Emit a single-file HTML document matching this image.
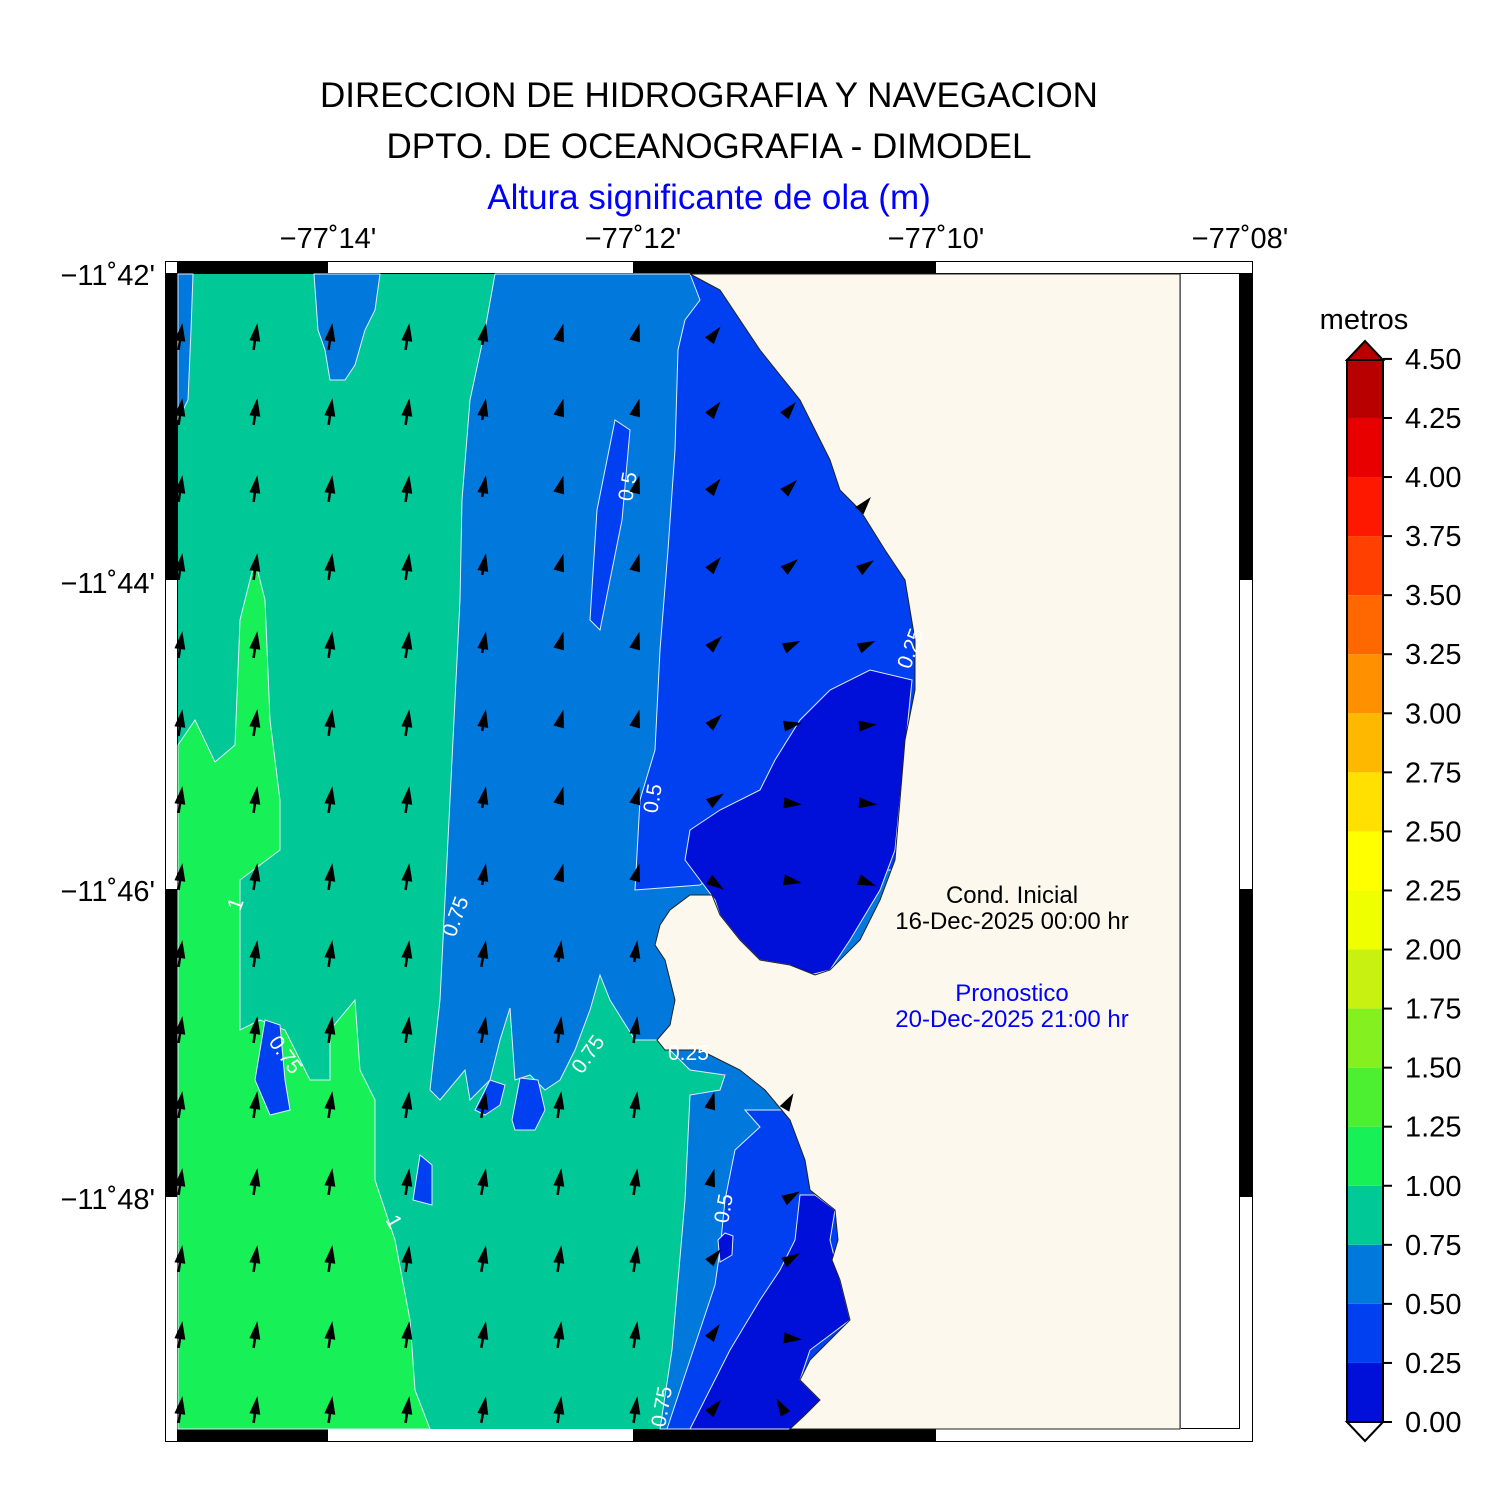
<!DOCTYPE html>
<html><head><meta charset="utf-8"><style>
html,body{margin:0;padding:0;background:#fff}
svg{display:block}
text{font-family:"Liberation Sans",sans-serif}
</style></head><body>
<svg id="s" width="1487" height="1500" viewBox="0 0 1487 1500" xmlns="http://www.w3.org/2000/svg">
<text x="709" y="107" font-size="35" text-anchor="middle">DIRECCION DE HIDROGRAFIA Y NAVEGACION</text>
<text x="709" y="158" font-size="35" text-anchor="middle">DPTO. DE OCEANOGRAFIA - DIMODEL</text>
<text x="709" y="209" font-size="35" text-anchor="middle" fill="#0000ff">Altura significante de ola (m)</text>
<g font-size="29" text-anchor="middle">
<text x="328" y="248">−77˚14'</text><text x="633" y="248">−77˚12'</text>
<text x="936" y="248">−77˚10'</text><text x="1240" y="248">−77˚08'</text>
</g>
<g font-size="29" text-anchor="end">
<text x="155" y="285">−11˚42'</text><text x="155" y="593">−11˚44'</text>
<text x="155" y="901">−11˚46'</text><text x="155" y="1209">−11˚48'</text>
</g>
<rect x="165.5" y="261.5" width="1087" height="1180" fill="#fff" stroke="#000" stroke-width="1"/>
<rect x="177" y="261" width="151" height="12" fill="#000"/>
<rect x="633" y="261" width="303" height="12" fill="#000"/>
<rect x="177" y="1429" width="151" height="12" fill="#000"/>
<rect x="633" y="1429" width="303" height="12" fill="#000"/>
<rect x="165" y="273" width="12" height="307" fill="#000"/>
<rect x="165" y="889" width="12" height="308" fill="#000"/>
<rect x="1240" y="273" width="12" height="307" fill="#000"/>
<rect x="1240" y="889" width="12" height="308" fill="#000"/>
<rect x="177.5" y="273.5" width="1062" height="1155" fill="none" stroke="#000" stroke-width="1"/>
<g stroke="#ddeeff" stroke-width="1">
<rect x="178" y="274" width="1002" height="1155" fill="#00c896" stroke="none"/>
<polygon fill="#0078dc" points="178,274 193,274 191,330 188,400 178,420"/>
<polygon fill="#0078dc" points="314,274 380,274 375,310 365,330 355,365 345,380 330,380 325,350 318,330"/>
<polygon fill="#18f058" points="178,745 195,720 215,762 235,745 240,620 255,560 265,600 270,720 280,800 280,850 240,880 240,1030 260,1020 285,1030 310,1080 330,1080 330,1030 355,1000 360,1070 375,1100 375,1180 395,1240 410,1320 415,1390 430,1429 178,1429"/>
<polygon fill="#0078dc" points="495,274 485,330 470,400 462,500 460,600 455,700 450,800 445,900 440,1000 430,1090 440,1100 465,1070 470,1100 490,1080 500,1040 510,1008 515,1080 530,1075 545,1090 560,1080 575,1050 590,1010 600,975 610,1000 635,1040 660,1040 690,1070 725,1075 720,1090 690,1095 685,1200 672,1350 660,1429 1180,1429 1180,274"/>
<polygon fill="#0040f0" points="690,274 700,300 685,320 678,350 675,450 668,550 660,650 655,750 640,800 635,890 700,885 720,870 1180,870 1180,274"/>
<polygon fill="#0040f0" points="590,620 597,510 615,420 630,430 622,520 600,630"/>
<polygon fill="#0040f0" points="745,1110 760,1127 735,1150 725,1200 720,1250 715,1285 700,1330 680,1390 667,1429 1180,1429 1180,1110"/>
<polygon fill="#0010d8" points="912,680 870,670 830,690 800,720 775,760 760,790 720,810 690,830 685,860 700,880 715,900 720,915 740,940 760,960 790,965 810,975 830,970 850,940 880,890 895,850 900,800 905,750"/>
<polygon fill="#0010d8" points="800,1195 795,1240 780,1270 760,1300 730,1350 690,1429 800,1429 820,1400 800,1380 810,1350 850,1320 840,1280 830,1240 835,1210 815,1195"/>
<polygon fill="#0040f0" points="255,1080 265,1020 280,1025 285,1080 290,1110 270,1115"/>
<polygon fill="#0040f0" points="475,1110 490,1080 505,1085 500,1105 485,1115"/>
<polygon fill="#0040f0" points="512,1120 520,1078 538,1080 545,1110 535,1130 515,1130"/>
<polygon fill="#0040f0" points="413,1200 420,1155 432,1165 432,1205"/>
<polygon fill="#0010d8" points="718,1240 725,1233 733,1236 732,1255 720,1262"/>
</g>
<polygon fill="#fdf8ee" stroke="#222" stroke-width="1" points="690,274 720,290 740,320 760,350 780,375 800,400 810,420 830,460 840,490 860,510 885,550 905,580 915,640 915,690 905,740 900,800 895,860 880,900 860,940 830,970 815,975 790,965 760,960 740,940 720,915 712,895 690,895 670,910 660,925 655,945 665,960 670,980 675,1000 670,1025 657,1040 665,1050 700,1050 740,1070 765,1090 790,1120 805,1160 810,1190 835,1210 838,1240 832,1260 840,1280 850,1320 830,1340 810,1360 800,1380 820,1400 805,1415 790,1429 1180,1429 1180,274"/>
<line x1="1180.5" y1="274" x2="1180.5" y2="1429" stroke="#666" stroke-width="1"/>
<g fill="#fff" font-size="21">
<text transform="translate(632,502) rotate(-80)">0.5</text>
<text transform="translate(657,814) rotate(-80)">0.5</text>
<text transform="translate(455,938) rotate(-70)">0.75</text>
<text transform="translate(582,1075) rotate(-55)">0.75</text>
<text transform="translate(268,1042) rotate(55)">0.75</text>
<text transform="translate(728,1224) rotate(-80)">0.5</text>
<text transform="translate(665,1428) rotate(-80)">0.75</text>
<text transform="translate(910,670) rotate(-70)">0.25</text>
<text transform="translate(240,912) rotate(-70)">1</text>
<text transform="translate(385,1220) rotate(60)">1</text>
<text x="668" y="1060">0.25</text>
</g>
<g id="arr"></g>
<text x="1012" y="903" font-size="24" text-anchor="middle">Cond. Inicial</text>
<text x="1012" y="929" font-size="24" text-anchor="middle">16-Dec-2025 00:00 hr</text>
<text x="1012" y="1001" font-size="24" text-anchor="middle" fill="#0000ff">Pronostico</text>
<text x="1012" y="1027" font-size="24" text-anchor="middle" fill="#0000ff">20-Dec-2025 21:00 hr</text>
<text x="1364" y="329" font-size="29" text-anchor="middle">metros</text>
<g id="cb"></g>
</svg>
<script>
var s=document.getElementById("cb");
var cols=["#0010d8","#0040f0","#0078dc","#00c896","#18f058","#4cf030","#84f020","#c8f010","#f0ff00","#ffff00","#ffe000","#ffb800","#ff9000","#ff6800","#ff4000","#ff1800","#e80000","#b80000"];
var h="";
for(var i=0;i<18;i++){var y=1422-(i+1)*59.06;h+='<rect x="1347" y="'+y+'" width="36" height="59.06" fill="'+cols[i]+'"/>';}
h+='<polygon points="1347,360 1383,360 1365,341" fill="#b80000" stroke="#000" stroke-width="2"/>';
h+='<polygon points="1347,1422 1383,1422 1365,1441" fill="#fff" stroke="#000" stroke-width="2"/>';
h+='<rect x="1347" y="360" width="36" height="1062" fill="none" stroke="#000" stroke-width="2"/>';
for(var i=0;i<=18;i++){var y=1422-i*59.06;h+='<line x1="1383" y1="'+y+'" x2="1392" y2="'+y+'" stroke="#000" stroke-width="2"/><text x="1405" y="'+(y+10)+'" font-size="29">'+(i*0.25).toFixed(2)+'</text>';}
s.innerHTML=h;
var A=document.getElementById("arr"),g="";
var xs=[180,255,330,407,483,559,635,710,785,860],ys=[340,415,492,570,648,726,803,880,957,1033,1108,1185,1262,1338,1413];
var right={
 710:{340:38,415:38,492:38,570:40,648:45,726:45,803:55,880:125,1108:15,1185:15,1262:40,1338:35,1413:40},
 785:{415:40,492:45,570:50,648:65,726:80,803:95,880:100,1108:30,1200:60,1262:60,1338:95,1413:-30},
 860:{510:40,570:55,648:65,726:85,803:95,880:110}
};
function arrow(x,y,a,L){
 var sh='';
 if(L>17) sh='<line x1="0" y1="'+(L-17)+'" x2="0" y2="0" stroke="#000" stroke-width="2.5"/>';
 return '<g transform="translate('+x+','+y+') rotate('+a+')">'+sh+'<polygon points="0,-17 -5.5,1 5.5,1" fill="#000"/></g>';}
for(var ci=0;ci<7;ci++)for(var ri=0;ri<ys.length;ri++){
 var x=xs[ci],y=ys[ri],a=8,L=27;
 if(ci==4){a=10;L=y<900?22:27;}
 if(ci>=5){a=y<900?15:8;L=y<900?18:(y<1000?22:27);}
 g+=arrow(x,y,a,L);}
for(var k in right){for(var yy in right[k]){g+=arrow(+k,+yy,right[k][yy],17);}}
A.innerHTML=g;
</script>
</body></html>
